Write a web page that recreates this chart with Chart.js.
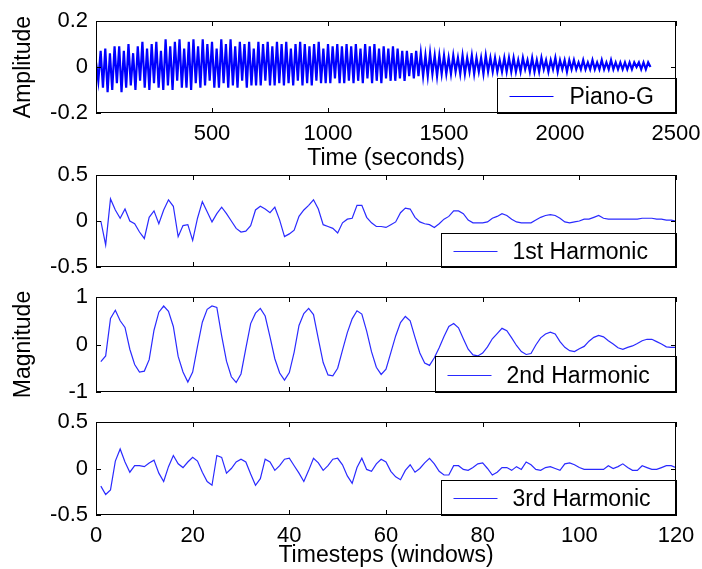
<!doctype html>
<html lang="en">
<head>
<meta charset="UTF-8">
<title>Piano-G and harmonics</title>
<script src="https://cdn.jsdelivr.net/npm/chart.js"></script>
<style>
  body { margin: 0; background: #fff; }
  #wrap { position: relative; width: 702px; height: 569px; }
  #wrap canvas { position: absolute; left: 0; top: 0; }
</style>
</head>
<body>
<div id="wrap">
  <canvas id="piano" width="702" height="569"></canvas>
  <canvas id="first" width="702" height="569"></canvas>
  <canvas id="second" width="702" height="569"></canvas>
  <canvas id="third" width="702" height="569"></canvas>
</div>
<script>
  // waveform, one value every 10 samples
  const pianoStep = 10;
  const pianoG = [
    0.02, -0.06, 0.07, -0.09, 0.08, -0.11, 0.06, -0.10, 0.09, -0.07,
    0.09, -0.11, 0.07, -0.09, 0.10, -0.08, 0.06, -0.10, 0.09, -0.06,
    0.11, -0.09, 0.08, -0.10, 0.10, -0.07, 0.11, -0.09, 0.07, -0.10,
    0.12, -0.08, 0.09, -0.10, 0.11, -0.06, 0.12, -0.09, 0.08, -0.09,
    0.11, -0.10, 0.12, -0.07, 0.09, -0.09, 0.12, -0.08, 0.10, -0.06,
    0.11, -0.09, 0.08, -0.09, 0.12, -0.07, 0.10, -0.09, 0.12, -0.08,
    0.09, -0.09, 0.11, -0.06, 0.10, -0.09, 0.11, -0.08, 0.08, -0.08,
    0.11, -0.08, 0.10, -0.06, 0.11, -0.08, 0.09, -0.08, 0.11, -0.07,
    0.10, -0.08, 0.11, -0.07, 0.08, -0.08, 0.10, -0.06, 0.11, -0.08,
    0.10, -0.07, 0.09, -0.08, 0.10, -0.06, 0.11, -0.07, 0.08, -0.07,
    0.10, -0.07, 0.09, -0.05, 0.10, -0.07, 0.09, -0.07, 0.10, -0.06,
    0.09, -0.07, 0.10, -0.06, 0.08, -0.07, 0.10, -0.05, 0.09, -0.07,
    0.10, -0.06, 0.08, -0.07, 0.09, -0.05, 0.08, -0.06, 0.09, -0.06,
    0.08, -0.05, 0.07, -0.06, 0.07, -0.04, 0.06, -0.05, 0.07, -0.04,
    0.06, -0.04, 0.05, -0.04, 0.06, -0.03, 0.05, -0.04, 0.05, -0.03,
    0.05, -0.03, 0.04, -0.03, 0.05, -0.02, 0.04, -0.03, 0.05, -0.03,
    0.04, -0.02, 0.05, -0.03, 0.04, -0.02, 0.04, -0.03, 0.05, -0.02,
    0.04, -0.02, 0.04, -0.02, 0.03, -0.02, 0.04, -0.02, 0.04, -0.02,
    0.04, -0.02, 0.03, -0.02, 0.04, -0.01, 0.03, -0.02, 0.04, -0.02,
    0.03, -0.02, 0.04, -0.01, 0.03, -0.02, 0.03, -0.01, 0.04, -0.02,
    0.03, -0.01, 0.03, -0.02, 0.03, -0.01, 0.03, -0.01, 0.02, -0.01,
    0.03, -0.01, 0.02, -0.01, 0.03, -0.01, 0.02, -0.01, 0.03, -0.01,
    0.02, -0.01, 0.03, -0.01, 0.02, -0.01, 0.02, -0.01, 0.02, -0.01,
    0.02, -0.01, 0.02, 0.00, 0.02, -0.01, 0.02, -0.01, 0.02, 0.00
  ];

  // harmonics, one value per timestep (1..120)
  const firstHarmonic = [
    0.00, -0.26, 0.24, 0.12, 0.03, 0.13, 0.00, -0.03, -0.12, -0.19,
    0.04, 0.11, -0.03, 0.12, 0.23, 0.16, -0.17, -0.05, -0.04, -0.21,
    0.03, 0.21, 0.10, -0.01, 0.08, 0.15, 0.08, 0.00, -0.08, -0.12,
    -0.11, -0.05, 0.12, 0.16, 0.13, 0.09, 0.15, 0.01, -0.17, -0.14,
    -0.10, 0.05, 0.12, 0.17, 0.23, 0.13, -0.04, -0.06, -0.08, -0.13,
    -0.02, 0.02, 0.03, 0.17, 0.17, 0.04, -0.02, -0.06, -0.06, -0.07,
    -0.04, -0.01, 0.09, 0.14, 0.13, 0.04, -0.01, -0.03, -0.04, -0.07,
    -0.03, 0.02, 0.05, 0.11, 0.11, 0.08, 0.01, -0.02, -0.02, -0.02,
    -0.01, 0.03, 0.05, 0.08, 0.06, 0.02, -0.01, -0.02, -0.02, -0.02,
    0.01, 0.04, 0.06, 0.07, 0.06, 0.03, -0.01, -0.02, -0.01, 0.00,
    0.02, 0.02, 0.04, 0.06, 0.03, 0.02, 0.02, 0.02, 0.02, 0.02,
    0.02, 0.02, 0.03, 0.03, 0.03, 0.02, 0.02, 0.01, 0.01, 0.00
  ];
  const secondHarmonic = [
    -0.36, -0.24, 0.55, 0.72, 0.50, 0.36, -0.10, -0.42, -0.58, -0.56,
    -0.32, 0.30, 0.68, 0.81, 0.70, 0.38, -0.25, -0.58, -0.79, -0.58,
    -0.04, 0.47, 0.74, 0.81, 0.78, 0.18, -0.35, -0.68, -0.80, -0.62,
    -0.08, 0.44, 0.66, 0.76, 0.60, 0.16, -0.30, -0.60, -0.75, -0.59,
    -0.16, 0.40, 0.65, 0.76, 0.63, 0.12, -0.38, -0.64, -0.66, -0.50,
    -0.12, 0.25, 0.54, 0.71, 0.64, 0.28, -0.15, -0.48, -0.63, -0.52,
    -0.17, 0.18, 0.46, 0.59, 0.50, 0.15, -0.18, -0.39, -0.44, -0.28,
    -0.07, 0.17, 0.38, 0.44, 0.35, 0.12, -0.10, -0.22, -0.24, -0.18,
    -0.05, 0.12, 0.23, 0.34, 0.29, 0.14, -0.02, -0.15, -0.21, -0.19,
    -0.01, 0.14, 0.22, 0.26, 0.22, 0.06, -0.06, -0.13, -0.15, -0.09,
    -0.04, 0.07, 0.15, 0.19, 0.16, 0.08, 0.01, -0.07, -0.10, -0.06,
    -0.03, 0.02, 0.08, 0.11, 0.11, 0.06, 0.01, -0.05, -0.06, -0.06
  ];
  const thirdHarmonic = [
    -0.19, -0.28, -0.23, 0.08, 0.21, 0.07, -0.04, 0.03, 0.03, 0.02,
    0.06, 0.09, -0.05, -0.14, 0.02, 0.14, 0.05, 0.01, 0.07, 0.12,
    0.08, -0.04, -0.14, -0.18, 0.14, 0.12, -0.05, 0.00, 0.07, 0.10,
    0.07, -0.06, -0.18, -0.11, 0.10, 0.07, -0.02, 0.03, 0.10, 0.11,
    0.03, -0.05, -0.14, -0.02, 0.11, 0.06, -0.02, 0.03, 0.10, 0.11,
    0.04, -0.08, -0.16, 0.01, 0.11, -0.01, -0.03, 0.05, 0.10, 0.07,
    -0.03, -0.09, -0.12, -0.02, 0.04, -0.04, 0.00, 0.06, 0.11, 0.05,
    -0.03, -0.07, -0.07, 0.03, 0.03, -0.01, -0.02, 0.01, 0.05, 0.06,
    0.00, -0.07, -0.04, 0.01, 0.01, -0.02, 0.02, -0.01, 0.07, 0.04,
    -0.01, -0.02, 0.01, 0.02, 0.00, -0.02, 0.05, 0.06, 0.04, 0.01,
    -0.01, -0.01, -0.01, -0.01, -0.01, 0.03, 0.00, 0.02, 0.05, 0.01,
    -0.02, -0.02, 0.03, 0.01, -0.01, -0.01, 0.01, 0.03, 0.03, 0.01
  ];

  const timeTicks = [0, 500, 1000, 1500, 2000, 2500];
  const stepTicks = [0, 20, 40, 60, 80, 100, 120];
  const ampTicks = [-0.2, 0, 0.2];
  const halfTicks = [-0.5, 0, 0.5];
  const unitTicks = [-1, 0, 1];

  const fontFamily = "'Liberation Sans', Arial, sans-serif";
  Chart.defaults.font.family = fontFamily;
  Chart.defaults.font.size = 22;
  Chart.defaults.color = '#000';

  // box, inward ticks and matlab style legend
  const matlabBox = {
    id: 'matlabBox',
    afterDatasetsDraw(chart, args, opts) {
      const {ctx, chartArea: a, scales: {x, y}} = chart;
      const tl = 5;
      ctx.save();
      ctx.strokeStyle = '#000';
      ctx.lineWidth = 1;
      ctx.beginPath();
      x.ticks.forEach(t => {
        const px = Math.round(x.getPixelForValue(t.value)) + 0.5;
        ctx.moveTo(px, a.top); ctx.lineTo(px, a.top + tl);
        ctx.moveTo(px, a.bottom); ctx.lineTo(px, a.bottom - tl);
      });
      y.ticks.forEach(t => {
        const py = Math.round(y.getPixelForValue(t.value)) + 0.5;
        ctx.moveTo(a.left, py); ctx.lineTo(a.left + tl, py);
        ctx.moveTo(a.right, py); ctx.lineTo(a.right - tl, py);
      });
      ctx.stroke();

      // legend in the bottom right corner
      const lw = opts.width, lh = opts.height;
      const lx = Math.round(a.right - lw) + 0.5;
      const ly = Math.round(a.bottom - lh) + 0.5;
      ctx.fillStyle = '#fff';
      ctx.fillRect(lx, ly, lw, lh);
      ctx.strokeRect(lx, ly, lw, lh);
      const my = Math.round(ly + lh / 2) + 0.5;
      ctx.strokeStyle = opts.color;
      ctx.beginPath();
      ctx.moveTo(lx + 12, my); ctx.lineTo(lx + 56, my);
      ctx.stroke();
      ctx.fillStyle = '#000';
      ctx.font = '23px ' + fontFamily;
      ctx.textBaseline = 'middle';
      ctx.fillText(opts.label, lx + opts.textX, my + 1);

      ctx.strokeStyle = '#000';
      ctx.strokeRect(a.left + 0.5, a.top + 0.5, a.width - 1, a.height - 1);
      ctx.restore();
    }
  };

  function plot(id, cfg) {
    return new Chart(document.getElementById(id), {
      type: 'line',
      data: {
        datasets: [{
          label: cfg.label,
          data: cfg.values.map((v, i) => ({x: cfg.x0 + i * cfg.dx, y: v})),
          borderColor: cfg.color,
          borderWidth: cfg.width,
          pointRadius: 0,
          tension: 0,
          fill: false
        }]
      },
      options: {
        responsive: false,
        animation: false,
        devicePixelRatio: 1,
        events: [],
        layout: {padding: {top: cfg.top, left: 0, right: 26, bottom: cfg.padBottom}},
        plugins: {
          legend: {display: false},
          tooltip: {enabled: false},
          matlabBox: {label: cfg.label, width: cfg.legendW, height: cfg.legendH, textX: cfg.textX, color: cfg.color}
        },
        scales: {
          x: {
            type: 'linear',
            min: cfg.xTicks[0],
            max: cfg.xTicks[cfg.xTicks.length - 1],
            afterBuildTicks: s => { s.ticks = cfg.xTicks.map(v => ({value: v})); },
            afterFit: s => { s.height = cfg.xHeight; s.paddingLeft = 0; s.paddingRight = 0; },
            grid: {display: false, drawTicks: false},
            border: {display: false},
            ticks: {
              display: cfg.xLabels,
              padding: 8,
              maxRotation: 0,
              autoSkip: false,
              callback: v => (cfg.hideZero && v === 0) ? '' : String(v)
            },
            title: {display: !!cfg.xTitle, text: cfg.xTitle, font: {size: 23}, padding: {top: 0, bottom: cfg.xTitlePad}}
          },
          y: {
            type: 'linear',
            min: cfg.yTicks[0],
            max: cfg.yTicks[cfg.yTicks.length - 1],
            afterBuildTicks: s => { s.ticks = cfg.yTicks.map(v => ({value: v})); },
            afterFit: s => { s.width = 96; s.paddingTop = 0; s.paddingBottom = 0; },
            grid: {display: false, drawTicks: false},
            border: {display: false},
            ticks: {padding: 8, callback: v => String(v)},
            title: {display: !!cfg.yTitle, text: cfg.yTitle, font: {size: 23}, padding: {top: 10, bottom: 0}}
          }
        }
      },
      plugins: [matlabBox]
    });
  }

  plot('piano', {
    label: 'Piano-G', values: pianoG, x0: 0, dx: pianoStep, color: '#0000ff', width: 2.2,
    top: 21, padBottom: 569 - 172, xHeight: 59, xTicks: timeTicks, yTicks: ampTicks,
    xLabels: true, hideZero: true, xTitle: 'Time (seconds)', xTitlePad: 0, yTitle: 'Amplitude',
    legendW: 179, legendH: 35, textX: 72
  });
  plot('first', {
    label: '1st Harmonic', values: firstHarmonic, x0: 1, dx: 1, color: '#2a2aff', width: 1.2,
    top: 175, padBottom: 569 - 267, xHeight: 0, xTicks: stepTicks, yTicks: halfTicks,
    xLabels: false, hideZero: false, xTitle: '', xTitlePad: 0, yTitle: '',
    legendW: 235, legendH: 34, textX: 71
  });
  plot('second', {
    label: '2nd Harmonic', values: secondHarmonic, x0: 1, dx: 1, color: '#2a2aff', width: 1.2,
    top: 297, padBottom: 569 - 392, xHeight: 0, xTicks: stepTicks, yTicks: unitTicks,
    xLabels: false, hideZero: false, xTitle: '', xTitlePad: 0, yTitle: 'Magnitude',
    legendW: 241, legendH: 36, textX: 71
  });
  plot('third', {
    label: '3rd Harmonic', values: thirdHarmonic, x0: 1, dx: 1, color: '#2a2aff', width: 1.2,
    top: 422, padBottom: 0, xHeight: 54, xTicks: stepTicks, yTicks: halfTicks,
    xLabels: true, hideZero: false, xTitle: 'Timesteps (windows)', xTitlePad: 0, yTitle: '',
    legendW: 235, legendH: 35, textX: 71
  });
</script>
</body>
</html>
